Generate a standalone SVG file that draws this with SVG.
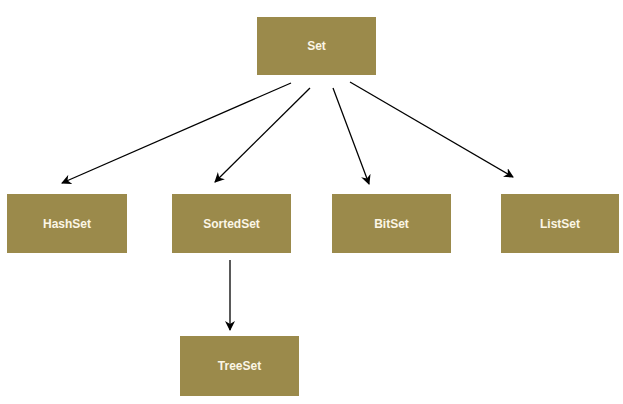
<svg xmlns="http://www.w3.org/2000/svg" width="623" height="404" viewBox="0 0 623 404">
<defs>
<style>
.box{fill:#9b8a4b;}
.lbl{font-family:"Liberation Sans Narrow","Liberation Sans",Arial,sans-serif;font-stretch:condensed;font-weight:bold;font-size:12px;fill:#fbf6e6;text-anchor:middle;dominant-baseline:central;}
.edge{stroke:#000;stroke-width:1.3;fill:none;marker-end:url(#ah);}
</style>
<marker id="ah" viewBox="0 0 10 10" refX="9" refY="5" markerWidth="10" markerHeight="10" markerUnits="userSpaceOnUse" orient="auto">
<path d="M0,0 L10,5 L0,10 L3,5 Z" fill="#000"/>
</marker>
</defs>
<rect width="623" height="404" fill="#fff"/>
<g id="connectors">
<line class="edge" x1="291" y1="83" x2="62" y2="183"/>
<line class="edge" x1="310" y1="88" x2="215" y2="182"/>
<line class="edge" x1="333" y1="88" x2="369" y2="184"/>
<line class="edge" x1="350" y1="82" x2="513" y2="177"/>
<line class="edge" x1="230" y1="260" x2="230" y2="330"/>
</g>
<g id="node-set"><rect class="box" x="257" y="17" width="119" height="58"/><text class="lbl" x="316.5" y="46">Set</text></g>
<g id="node-hashset"><rect class="box" x="7" y="194" width="120" height="59"/><text class="lbl" x="67" y="223.5">HashSet</text></g>
<g id="node-sortedset"><rect class="box" x="172" y="194" width="119" height="59"/><text class="lbl" x="231.5" y="223.5">SortedSet</text></g>
<g id="node-bitset"><rect class="box" x="332" y="194" width="119" height="59"/><text class="lbl" x="391.5" y="223.5">BitSet</text></g>
<g id="node-listset"><rect class="box" x="501" y="194" width="118" height="59"/><text class="lbl" x="560" y="223.5">ListSet</text></g>
<g id="node-treeset"><rect class="box" x="180" y="336" width="119" height="60"/><text class="lbl" x="239.5" y="366">TreeSet</text></g>
</svg>
